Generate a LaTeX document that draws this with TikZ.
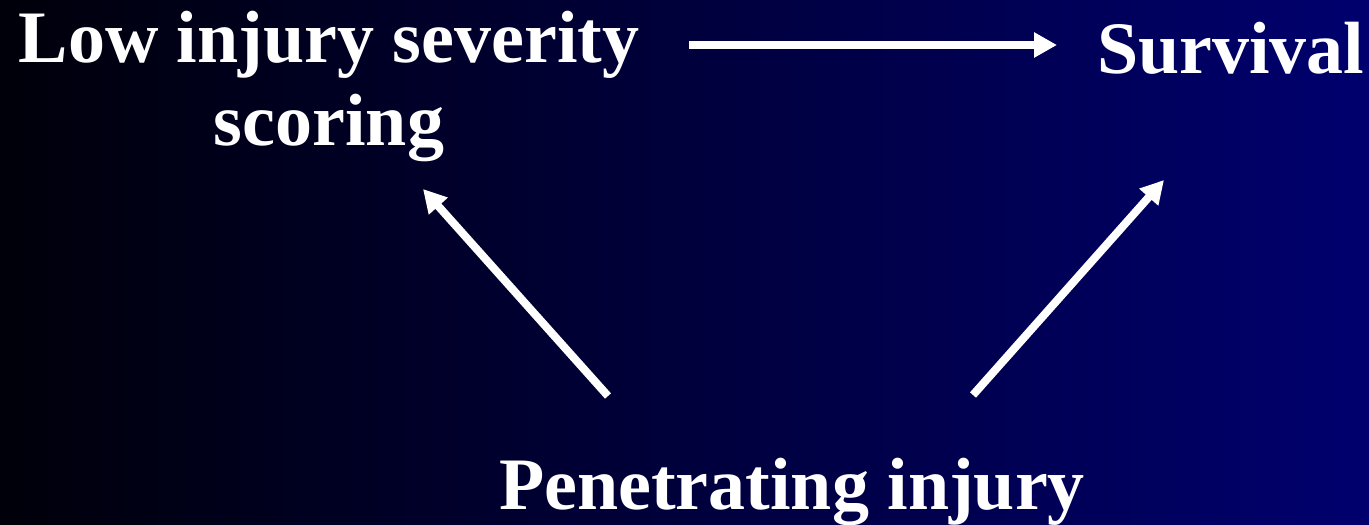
\documentclass[tikz,border=0pt]{standalone}
\usepackage{fontspec}
\setmainfont{Liberation Serif}
\usetikzlibrary{arrows.meta}
\definecolor{bgleft}{RGB}{0,0,10}
\definecolor{bgright}{RGB}{0,0,110}
\tikzset{
  lbl/.style={text=white, inner sep=0pt, font=\bfseries\fontsize{74}{83}\selectfont},
  conn/.style={draw=white, line width=8pt, -{Triangle[length=23pt,width=24pt]}}
}
\begin{document}
\begin{tikzpicture}[x=1pt,y=-1pt]
\shade[left color=bgleft, right color=bgright] (0,0) rectangle (1369,525);
\useasboundingbox (0,0) rectangle (1369,525);
\node[lbl, align=center, anchor=base] (low) at (329,145) {Low injury severity\\scoring};
\node[lbl, anchor=base west] (surv) at (1097,73) {Survival};
\node[lbl, anchor=base west] (pen) at (499,509) {Penetrating injury};
\coordinate (a1s) at (689,45);
\coordinate (a1e) at (1057,45);
\coordinate (a2s) at (608,396);
\coordinate (a2e) at (423,189);
\coordinate (a3s) at (973,395);
\coordinate (a3e) at (1164,180);
\draw[conn] (a1s) -- (a1e);
\draw[conn] (a2s) -- (a2e);
\draw[conn] (a3s) -- (a3e);
\end{tikzpicture}
\end{document}
